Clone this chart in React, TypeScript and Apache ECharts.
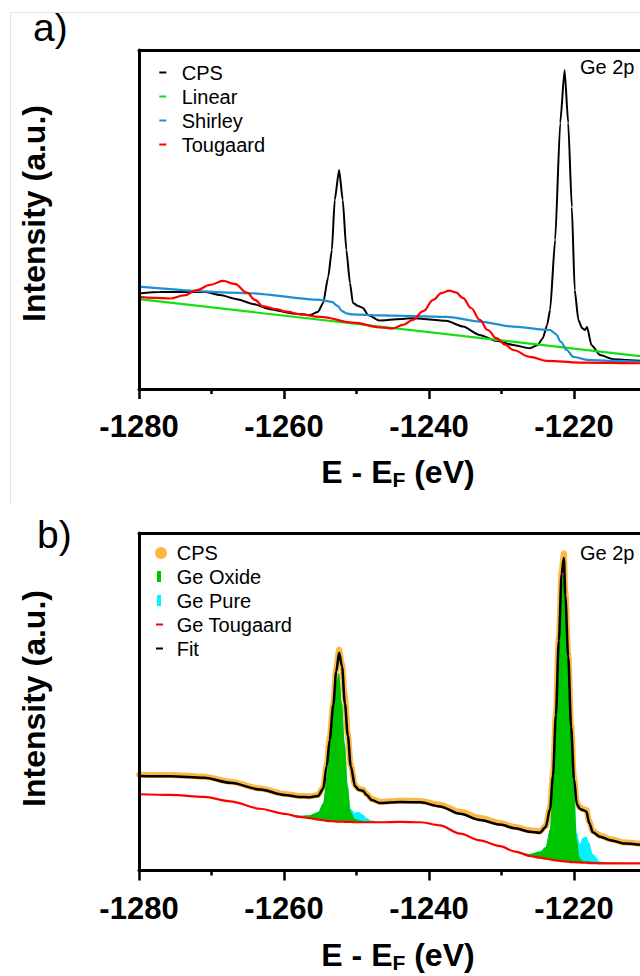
import React, { useEffect, useRef } from "react";
import * as echarts from "echarts";

const FONT = '"Liberation Sans", Arial, Helvetica, sans-serif';

// ---------- Panel a) ----------
const E_A_CPS = [-1280, -1277.1, -1273.4, -1270.9, -1268.8, -1266.5, -1264.3, -1261.9, -1258.8, -1256.4, -1255.3, -1254.6, -1253.9, -1253.4, -1253.0, -1252.4, -1251.9, -1251.4, -1250.9, -1250.5, -1249.8, -1249.1, -1248.4, -1246.8, -1242.2, -1237.6, -1235.3, -1233.0, -1230.7, -1228.4, -1226.1, -1225.0, -1224.3, -1223.7, -1223.3, -1222.6, -1221.9, -1221.3, -1220.8, -1220.3, -1219.9, -1219.4, -1218.9, -1218.5, -1218.2, -1217.6, -1216.4, -1214.6, -1210.9];
const A_CPS = [28.2, 28.6, 28.7, 28.6, 27.7, 26.5, 25.1, 23.5, 22.3, 21.8, 22.8, 25.4, 33.1, 41.0, 55.8, 64.6, 55.8, 41.0, 31.3, 25.4, 24.5, 23.9, 21.8, 20.2, 20.9, 20.1, 18.4, 15.9, 14.2, 13.0, 12.0, 13.0, 15.0, 18.9, 23.3, 44.0, 78.5, 94.1, 78.5, 53.7, 29.2, 20.4, 18.0, 17.4, 18.3, 13.0, 10.0, 8.8, 8.3];

const E_A_LINEAR = [-1280, -1210.9];
const A_LINEAR = [26.5, 9.7];

const E_A_SHIRLEY = [-1280, -1265.2, -1255.0, -1253.4, -1252.6, -1252.0, -1251.4, -1250.6, -1246.8, -1237.6, -1233.0, -1228.4, -1223.3, -1222.5, -1221.8, -1221.0, -1220.1, -1218.2, -1214.6, -1210.9];
const A_SHIRLEY = [30.2, 28.3, 26.3, 25.7, 24.5, 23.0, 22.3, 22.0, 21.7, 21.3, 19.9, 18.4, 17.4, 16.2, 13.9, 11.5, 9.5, 8.6, 8.3, 8.1];

const E_A_TOUGAARD = [-1280, -1277.8, -1275.7, -1273.8, -1272.0, -1270.2, -1268.4, -1266.8, -1265.1, -1264.0, -1262.9, -1261.2, -1259.6, -1257.8, -1255.0, -1250.5, -1246.8, -1245.0, -1243.6, -1242.2, -1240.8, -1239.4, -1238.3, -1237.2, -1236.3, -1235.3, -1234.2, -1233.0, -1231.9, -1230.7, -1229.5, -1228.4, -1226.1, -1223.8, -1219.2, -1210.9];
const A_TOUGAARD = [27.2, 26.9, 26.7, 27.6, 29.2, 30.7, 31.9, 31.0, 28.4, 26.3, 24.4, 23.6, 22.8, 22.0, 21.3, 19.6, 18.2, 17.9, 18.9, 20.4, 23.0, 26.3, 28.3, 29.0, 28.5, 26.8, 23.9, 20.4, 17.4, 15.0, 13.1, 11.5, 9.5, 8.3, 7.8, 7.6];

// ---------- Panel b) ----------
const E_B = [-1280.0, -1275.7, -1271.0, -1267.4, -1263.3, -1259.9, -1257.8, -1256.4, -1255.3, -1254.6, -1254.1, -1253.7, -1253.2, -1252.8, -1252.4, -1252.0, -1251.6, -1251.2, -1250.8, -1250.2, -1249.7, -1249.1, -1248.6, -1247.9, -1246.8, -1244.0, -1241.2, -1238.5, -1235.7, -1233.0, -1230.2, -1228.1, -1226.1, -1224.7, -1223.9, -1223.3, -1222.9, -1222.5, -1222.1, -1221.7, -1221.4, -1221.2, -1220.8, -1220.4, -1220.0, -1219.6, -1219.2, -1218.8, -1218.3, -1217.9, -1217.4, -1216.4, -1215.0, -1213.0, -1210.9];
const B_TOUGAARD = [22.6, 22.4, 21.8, 20.5, 18.3, 16.8, 15.9, 15.5, 15.1, 14.9, 14.7, 14.6, 14.6, 14.5, 14.5, 14.5, 14.4, 14.4, 14.4, 14.3, 14.3, 14.3, 14.3, 14.3, 14.3, 14.4, 14.3, 13.4, 10.9, 8.9, 7.2, 5.6, 4.3, 3.8, 3.5, 3.3, 3.1, 3.0, 2.9, 2.8, 2.7, 2.7, 2.6, 2.5, 2.5, 2.4, 2.4, 2.3, 2.3, 2.2, 2.2, 2.1, 2.1, 2.1, 2.1];
const B_OXIDE = [0, 0, 0, 0, 0, 0, 0.3, 0.9, 2.2, 5.0, 13.0, 22.5, 33.0, 41.5, 44.0, 35.0, 23.0, 10.5, 3.0, 1.0, 0.6, 0.4, 0.3, 0.2, 0.1, 0, 0, 0, 0, 0, 0, 0.2, 0.6, 1.8, 3.5, 8.9, 24.5, 42.0, 60.4, 82.0, 84.5, 74.0, 58.2, 40.4, 22.5, 6.8, 1.2, 0.6, 0.5, 0.5, 0.4, 0.3, 0.2, 0.15, 0.1];
const B_PURE = [0, 0, 0, 0, 0, 0, 0, 0, 0, 0, 0, 0, 0, 0, 0, 0, 0.1, 0.3, 0.8, 1.8, 2.4, 1.8, 0.9, 0.3, 0, 0, 0, 0, 0, 0, 0, 0, 0, 0, 0, 0, 0, 0, 0, 0, 0, 0, 0, 0.2, 0.8, 2.0, 4.3, 6.8, 7.3, 5.5, 2.2, 0.3, 0, 0, 0];
const B_FIT = [28.0, 27.9, 27.5, 26.0, 24.0, 22.4, 21.8, 21.7, 22.1, 24.2, 31.0, 38.7, 49.1, 58.9, 64.5, 60.5, 49.5, 40.0, 31.0, 25.0, 23.9, 23.6, 22.4, 20.9, 20.0, 20.3, 20.2, 19.0, 16.8, 15.0, 13.6, 12.5, 11.5, 11.2, 12.9, 18.3, 28.0, 46.0, 68.0, 88.0, 92.6, 81.5, 63.5, 42.6, 27.1, 19.6, 18.3, 17.9, 17.5, 14.1, 11.3, 10.0, 9.0, 8.0, 7.6];
const B_CPS = [28.4, 28.3, 27.8, 26.3, 24.3, 22.7, 22.1, 22.0, 22.4, 24.5, 31.4, 39.3, 49.7, 59.5, 65.4, 61.0, 51.5, 40.4, 31.3, 25.3, 24.2, 23.9, 22.7, 21.2, 20.4, 20.7, 20.6, 19.5, 17.4, 15.6, 14.1, 12.9, 11.9, 11.6, 13.2, 18.7, 28.5, 46.6, 68.7, 88.8, 93.9, 82.4, 64.2, 43.1, 27.5, 20.1, 18.7, 18.3, 17.9, 14.5, 11.7, 10.4, 9.3, 8.3, 7.9];

const X_MIN = -1280;
const X_MAX = -1200;
const X_STEP = 20;

const C_BLACK = "#000000";
const C_LINEAR = "#10e010";
const C_SHIRLEY = "#1f8fd4";
const C_RED = "#ff0000";
const C_ORANGE = "#fbb843";
const C_OXIDE = "#00c400";
const C_PURE = "#00f4ff";

const zip = (xs: number[], ys: number[]) => xs.map((x, i) => [x, ys[i]]);
const addArr = (...arrs: number[][]) => arrs[0].map((_, i) => arrs.reduce((s, a) => s + a[i], 0));

function xBottom(gridIndex: number) {
  return {
    type: "value", gridIndex, min: X_MIN, max: X_MAX, interval: X_STEP, position: "bottom", z: 10,
    axisLine: { show: true, onZero: false, lineStyle: { color: "#000", width: 3 } },
    axisTick: { show: true, length: 10, lineStyle: { color: "#000", width: 2.5 } },
    minorTick: { show: true, splitNumber: 2, length: 5, lineStyle: { color: "#000", width: 2.5 } },
    axisLabel: {
      show: true, margin: 22, color: "#000", fontSize: 31, fontWeight: "bold", fontFamily: FONT,
      showMaxLabel: false,
      formatter: (v: number) => (v > -1210 ? "" : String(v)),
    },
    splitLine: { show: false },
    minorSplitLine: { show: false },
  };
}
function xTop(gridIndex: number) {
  return {
    type: "value", gridIndex, min: X_MIN, max: X_MAX, position: "top", z: 10,
    axisLine: { show: true, onZero: false, lineStyle: { color: "#000", width: 3 } },
    axisTick: { show: false }, axisLabel: { show: false }, splitLine: { show: false },
  };
}
function yLeft(gridIndex: number) {
  return {
    type: "value", gridIndex, min: 0, max: 100, z: 10,
    axisLine: { show: true, onZero: false, lineStyle: { color: "#000", width: 3 } },
    axisTick: { show: false }, axisLabel: { show: false }, splitLine: { show: false },
  };
}
function legendItem(name: string, left: number, top: number, icon: string, w: number, h: number, color: string, padLeft: number) {
  return {
    show: true, selectedMode: false, orient: "vertical", left, top, padding: 0,
    itemWidth: w, itemHeight: h, itemGap: 0, icon,
    itemStyle: { borderWidth: 0 },
    data: [{ name, icon, itemStyle: { color, borderWidth: 0 } }],
    textStyle: { fontSize: 20, fontFamily: FONT, color: "#000", lineHeight: 20, padding: [0, 0, 0, padLeft] },
  };
}
function lineSeries(name: string, xi: number, yi: number, data: number[][], color: string, width: number, smooth: number, extra: any = {}) {
  return {
    name, type: "line", xAxisIndex: xi, yAxisIndex: yi, data, smooth, smoothMonotone: "x",
    symbol: "none", showSymbol: false, silent: true, clip: true,
    color, itemStyle: { color }, lineStyle: { color, width },
    ...extra,
  };
}
function xTitle(x: number, y: number) {
  return {
    type: "text", x, y, z: 20,
    style: {
      text: "{m|E - E}{s|F}{m| (eV)}", align: "center", verticalAlign: "middle", fill: "#000",
      rich: {
        m: { fontSize: 32, fontWeight: "bold", fontFamily: FONT, fill: "#000" },
        s: { fontSize: 21, fontWeight: "bold", fontFamily: FONT, fill: "#000", padding: [15, 0, 0, 0] },
      },
    },
  };
}
function yTitle(x: number, y: number) {
  return {
    type: "text", x, y, rotation: Math.PI / 2, z: 20,
    style: { text: "Intensity (a.u.)", align: "center", verticalAlign: "middle", fontSize: 32, fontWeight: "bold", fontFamily: FONT, fill: "#000" },
  };
}
function plainText(text: string, x: number, y: number, size: number) {
  return { type: "text", x, y, z: 20, style: { text, align: "left", verticalAlign: "middle", fontSize: size, fontFamily: FONT, fill: "#000" } };
}

const B_TOP_OXIDE = addArr(B_TOUGAARD, B_OXIDE);
const B_TOP_PURE = addArr(B_TOUGAARD, B_OXIDE, B_PURE);

const option: any = {
  animation: false,
  backgroundColor: "#ffffff",
  grid: [
    { left: 139, top: 50, width: 580, height: 339, containLabel: false, outerBoundsMode: "none" },
    { left: 139, top: 533, width: 580, height: 337.5, containLabel: false, outerBoundsMode: "none" },
  ],
  xAxis: [xBottom(0), xTop(0), xBottom(1), xTop(1)],
  yAxis: [yLeft(0), yLeft(1)],
  legend: [
    legendItem("CPS", 159.3, 62.5, "rect", 7, 2, C_BLACK, 10.4),
    legendItem("Linear", 159.3, 86.5, "rect", 7, 2, C_LINEAR, 10.4),
    legendItem("Shirley", 159.3, 110.5, "rect", 7, 2, C_SHIRLEY, 10.4),
    legendItem("Tougaard", 159.3, 134.5, "rect", 7, 2, C_RED, 10.4),
    legendItem("CPS", 155, 543, "circle", 12, 12, C_ORANGE, 4.7),
    legendItem("Ge Oxide", 157, 566.5, "rect", 4, 11, C_OXIDE, 10.7),
    legendItem("Ge Pure", 157, 590.5, "rect", 4, 11, C_PURE, 10.7),
    legendItem("Ge Tougaard", 156, 614.5, "rect", 7, 2, C_RED, 8.7),
    legendItem("Fit", 156, 638.5, "rect", 7, 2, C_BLACK, 8.7),
  ],
  graphic: [
    { type: "line", shape: { x1: 10.5, y1: 12.5, x2: 640, y2: 12.5 }, style: { stroke: "#e2e2e2", lineWidth: 1 } },
    { type: "line", shape: { x1: 10.5, y1: 12.5, x2: 10.5, y2: 503 }, style: { stroke: "#e2e2e2", lineWidth: 1 } },
    plainText("a)", 33, 27, 39),
    plainText("b)", 37, 534, 39),
    plainText("Ge 2p", 580, 66.5, 20),
    plainText("Ge 2p", 580, 552.5, 20),
    yTitle(33.5, 213.5),
    yTitle(33.5, 698.5),
    xTitle(398, 472),
    xTitle(398, 955),
  ],
  series: [
    // panel a
    lineSeries("CPS", 0, 0, zip(E_A_CPS, A_CPS), C_BLACK, 2, 0.2),
    lineSeries("Linear", 0, 0, zip(E_A_LINEAR, A_LINEAR), C_LINEAR, 2.2, 0),
    lineSeries("Shirley", 0, 0, zip(E_A_SHIRLEY, A_SHIRLEY), C_SHIRLEY, 2.2, 0.3),
    lineSeries("Tougaard", 0, 0, zip(E_A_TOUGAARD, A_TOUGAARD), C_RED, 2.2, 0.4),
    // panel b
    lineSeries("Ge Pure", 2, 1, zip(E_B, B_TOP_PURE), C_PURE, 0, 0.3, { areaStyle: { color: C_PURE, opacity: 1, origin: "start" }, lineStyle: { width: 0, color: C_PURE } }),
    lineSeries("Ge Oxide", 2, 1, zip(E_B, B_TOP_OXIDE), C_OXIDE, 0, 0.3, { areaStyle: { color: C_OXIDE, opacity: 1, origin: "start" }, lineStyle: { width: 0, color: C_OXIDE } }),
    lineSeries("_baseline", 2, 1, zip(E_B, B_TOUGAARD), "#ffffff", 0, 0.3, { areaStyle: { color: "#ffffff", opacity: 1, origin: "start" }, lineStyle: { width: 0, color: "#ffffff" } }),
    lineSeries("Ge Tougaard", 2, 1, zip(E_B, B_TOUGAARD), C_RED, 2.2, 0.3),
    lineSeries("CPS", 2, 1, zip(E_B, B_CPS), C_ORANGE, 6, 0.3, { symbol: "circle", showSymbol: true, symbolSize: 6, itemStyle: { color: C_ORANGE }, z: 2 }),
    lineSeries("Fit", 2, 1, zip(E_B, B_FIT), C_BLACK, 2.5, 0.3, { z: 5 }),
  ],
};

export default function App() {
  const ref = useRef<HTMLDivElement>(null);
  useEffect(() => {
    if (!ref.current) return;
    const chart = echarts.init(ref.current, null, { renderer: "svg" });
    chart.setOption(option);
    return () => chart.dispose();
  }, []);
  return (
    <div
      ref={ref}
      style={{ position: "absolute", left: 0, top: 0, width: 640, height: 976, background: "#fff", overflow: "hidden" }}
    />
  );
}
